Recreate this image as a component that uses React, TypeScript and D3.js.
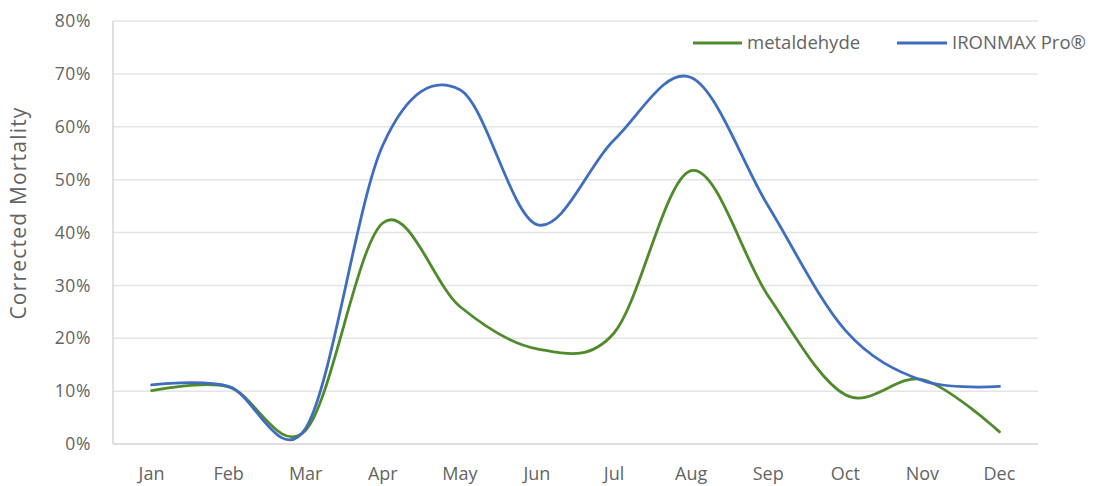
import React from "react";
import * as d3 from "d3";

const months = ["Jan", "Feb", "Mar", "Apr", "May", "Jun", "Jul", "Aug", "Sep", "Oct", "Nov", "Dec"];
const metaldehyde = [10.1, 10.8, 2.6, 41.8, 26.0, 18.0, 21.0, 51.7, 28.0, 9.3, 12.2, 2.3];
const ironmax = [11.2, 10.9, 3.0, 56.5, 67.0, 41.5, 57.5, 69.3, 45.0, 21.5, 12.0, 10.9];
const yTicks = [0, 10, 20, 30, 40, 50, 60, 70, 80];

const W = 1093;
const H = 486;
const left = 113;
const right = 1038;
const top = 21;
const bottom = 444;
const FONT = "'Open Sans', 'Liberation Sans', sans-serif";
const TEXT = "#646464";

export default function App() {
  const x = d3.scaleBand<string>().domain(months).range([left, right]);
  const cx = (m: string) => (x(m) as number) + x.bandwidth() / 2;
  const y = d3.scaleLinear().domain([0, 80]).range([bottom, top]);

  const line = d3
    .line<number>()
    .x((_, i) => cx(months[i]))
    .y((d) => y(d))
    .curve(d3.curveCardinal.tension(0));

  const series = [
    { name: "metaldehyde", values: metaldehyde, color: "#4f8a2b" },
    { name: "IRONMAX Pro®", values: ironmax, color: "#3f6dc0" },
  ];

  return (
    <svg width={W} height={H} style={{ position: "absolute", left: 0, top: 0, background: "#fff" }}>
      {yTicks.map((t) => (
        <g key={t}>
          <line x1={left} x2={right} y1={y(t)} y2={y(t)} stroke={t === 0 ? "#d4d4d4" : "#e4e4e4"} strokeWidth={1.5} />
          <text x={91} y={y(t)} dy="0.35em" textAnchor="end" fontFamily={FONT} fontSize={17.5} letterSpacing={0.6} fill={TEXT}>
            {t}%
          </text>
        </g>
      ))}
      <line x1={left} x2={left} y1={top} y2={bottom} stroke="#d4d4d4" strokeWidth={1.5} />
      {months.map((m) => (
        <text key={m} x={cx(m)} y={474} dy="0.35em" textAnchor="middle" fontFamily={FONT} fontSize={18} fill={TEXT}>
          {m}
        </text>
      ))}
      <text
        transform="translate(19,213) rotate(-90)"
        textAnchor="middle"
        dy="0.35em"
        fontFamily={FONT}
        fontSize={21}
        letterSpacing={1.2}
        fill={TEXT}
      >
        Corrected Mortality
      </text>
      {series.map((s) => (
        <path key={s.name} d={line(s.values) || ""} fill="none" stroke={s.color} strokeWidth={2.8} strokeLinecap="round" />
      ))}
      {/* legend */}
      <g fontFamily={FONT} fontSize={18.5} fill={TEXT}>
        <line x1={693} x2={742} y1={43} y2={43} stroke={series[0].color} strokeWidth={2.8} />
        <text x={747} y={43} dy="0.35em">{series[0].name}</text>
        <line x1={897} x2={947} y1={43} y2={43} stroke={series[1].color} strokeWidth={2.8} />
        <text x={952} y={43} dy="0.35em">{series[1].name}</text>
      </g>
    </svg>
  );
}
